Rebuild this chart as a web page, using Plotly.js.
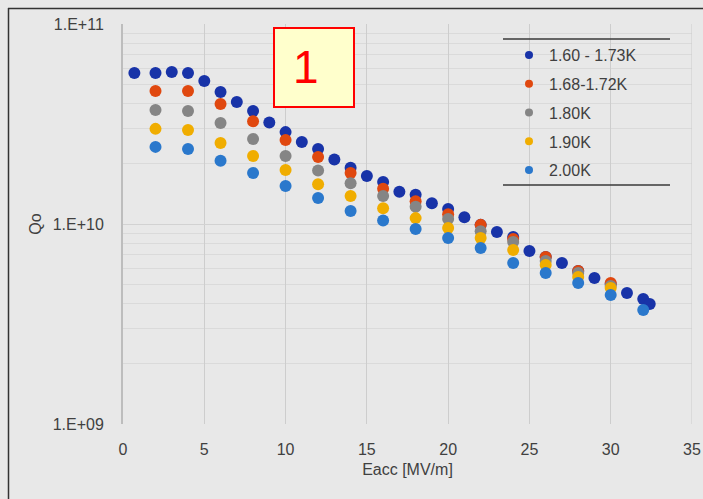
<!DOCTYPE html>
<html>
<head>
<meta charset="utf-8">
<script src="https://cdn.plot.ly/plotly-3.0.1.min.js"></script>
<style>
html,body{margin:0;padding:0;background:#e8e8e8;}
#chart{width:703px;height:499px;}
</style>
</head>
<body>
<div id="chart"></div>
<script>
// Series names
const seriesNames = ["1.60 - 1.73K", "1.68-1.72K", "1.80K", "1.90K", "2.00K"];
const seriesColors = ["#1833a8", "#e0480f", "#858585", "#f0ad00", "#2a78cc"];

// Eacc [MV/m]
const eaccA = [0.7, 2, 3, 4, 5, 6, 7, 8, 9, 10, 11, 12, 13, 14, 15, 16, 17, 18, 19, 20, 21, 22, 23, 24, 25, 26, 27, 28, 29, 30, 31, 32, 32.4];
const qoA = [5.69e10, 5.69e10, 5.75e10, 5.69e10, 5.19e10, 4.57e10, 4.07e10, 3.67e10, 3.22e10, 2.88e10, 2.57e10, 2.37e10, 2.10e10, 1.91e10, 1.74e10, 1.62e10, 1.45e10, 1.40e10, 1.27e10, 1.19e10, 1.08e10, 9.9e9, 9.12e9, 8.61e9, 7.33e9, 6.84e9, 6.38e9, 5.82e9, 5.37e9, 5.01e9, 4.52e9, 4.22e9, 3.98e9];

const eaccEven = [2, 4, 6, 8, 10, 12, 14, 16, 18, 20, 22, 24, 26, 28, 30];
const qoB = [4.62e10, 4.62e10, 3.98e10, 3.26e10, 2.63e10, 2.16e10, 1.80e10, 1.50e10, 1.30e10, 1.12e10, 9.9e9, 8.41e9, 6.84e9, 5.82e9, 5.07e9];
const qoC = [3.72e10, 3.67e10, 3.20e10, 2.66e10, 2.19e10, 1.85e10, 1.60e10, 1.38e10, 1.22e10, 1.06e10, 9.2e9, 8.13e9, 6.53e9, 5.69e9, 4.90e9];
const qoD = [2.99e10, 2.95e10, 2.54e10, 2.19e10, 1.86e10, 1.58e10, 1.38e10, 1.20e10, 1.07e10, 9.55e9, 8.51e9, 7.41e9, 6.24e9, 5.43e9, 4.79e9];

const eaccE = [2, 4, 6, 8, 10, 12, 14, 16, 18, 20, 22, 24, 26, 28, 30, 32];
const qoE = [2.43e10, 2.37e10, 2.07e10, 1.80e10, 1.55e10, 1.35e10, 1.16e10, 1.04e10, 9.44e9, 8.51e9, 7.59e9, 6.38e9, 5.69e9, 5.07e9, 4.42e9, 3.72e9];

const yTickVals = [1e9, 1e10, 1e11];
const yTickText = ["1.E+09", "1.E+10", "1.E+11"];
const xTickVals = [0, 5, 10, 15, 20, 25, 30, 35];

const xs = [eaccA, eaccEven, eaccEven, eaccEven, eaccE];
const ys = [qoA, qoB, qoC, qoD, qoE];

const FONT = "Liberation Sans, Arial, sans-serif";
const TXT = "#404040";

const traces = [];
for (let i = 0; i < 5; i++) {
  traces.push({
    type: "scatter", mode: "markers", x: xs[i], y: ys[i],
    name: seriesNames[i], showlegend: false, hoverinfo: "skip",
    marker: {color: seriesColors[i], size: 12, line: {width: 0}}
  });
}
// legend entries (small symbols)
for (let i = 0; i < 5; i++) {
  traces.push({
    type: "scatter", mode: "markers", x: [null], y: [null],
    name: seriesNames[i], showlegend: true, legendgroup: "g" + i,
    marker: {color: seriesColors[i], size: 8}
  });
}

// paper mapping helpers (plot area 123..692 x, 24..424 y)
const L = 123, R = 692, T = 24, B = 424;
const px = v => (v - L) / (R - L);
const py = v => (B - v) / (B - T);

const layout = {
  width: 703, height: 499,
  margin: {l: L, r: 703 - R, t: T, b: 499 - B, pad: 0},
  paper_bgcolor: "#e8e8e8", plot_bgcolor: "#e8e8e8",
  font: {family: FONT, size: 16, color: TXT},
  showlegend: true,
  legend: {
    x: px(509), y: py(38), xanchor: "left", yanchor: "top",
    bgcolor: "rgba(0,0,0,0)", borderwidth: 0,
    font: {family: FONT, size: 16, color: TXT},
    tracegroupgap: 5, itemwidth: 30
  },
  xaxis: {
    range: [0, 35], tickvals: xTickVals, showgrid: true, gridcolor: "#cdcdcd", gridwidth: 1,
    zeroline: false, showline: false, ticks: "", ticklabelstandoff: 14,
    tickfont: {family: FONT, size: 16, color: TXT},
    title: {text: "Eacc [MV/m]", font: {family: FONT, size: 16, color: TXT}, standoff: 6}
  },
  yaxis: {
    type: "log", range: [9, 11], tickvals: yTickVals, ticktext: yTickText,
    showgrid: true, gridcolor: "#d2d2d2", gridwidth: 1,
    minor: {dtick: "D1", showgrid: true, gridcolor: "#dadada", gridwidth: 1, ticks: ""},
    zeroline: false, showline: true, linecolor: "#bdbdbd", linewidth: 2, ticks: "",
    ticklabelstandoff: 14,
    tickfont: {family: FONT, size: 16, color: TXT},
    title: {text: "Qo", font: {family: FONT, size: 16, color: TXT}, standoff: 7}
  },
  shapes: [
    // outer frame (left and top)
    {type: "line", xref: "paper", yref: "paper", x0: px(8), x1: px(703), y0: py(8.5), y1: py(8.5), line: {color: "#333", width: 1.5}},
    {type: "line", xref: "paper", yref: "paper", x0: px(8.5), x1: px(8.5), y0: py(8), y1: py(499), line: {color: "#333", width: 1.5}},
    // x=35 right gridline
    {type: "line", xref: "x", yref: "paper", x0: 35, x1: 35, y0: 0, y1: 1, line: {color: "#cdcdcd", width: 1}},
    // legend top and bottom rules
    {type: "line", xref: "paper", yref: "paper", x0: px(503), x1: px(670), y0: py(39), y1: py(39), line: {color: "#3a3a3a", width: 1.5}},
    {type: "line", xref: "paper", yref: "paper", x0: px(503), x1: px(670), y0: py(185), y1: py(185), line: {color: "#3a3a3a", width: 1.5}},
    // red label box
    {type: "rect", xref: "paper", yref: "paper", x0: px(274), x1: px(354), y0: py(28), y1: py(107), fillcolor: "#ffffcc", line: {color: "#ff0000", width: 2}}
  ],
  annotations: [
    {xref: "paper", yref: "paper", x: px(306), y: py(67), text: "1", showarrow: false,
     font: {family: FONT, size: 46, color: "#ff0000"}, xanchor: "center", yanchor: "middle"}
  ]
};

Plotly.newPlot("chart", traces, layout, {displayModeBar: false, staticPlot: true});
</script>
</body>
</html>
